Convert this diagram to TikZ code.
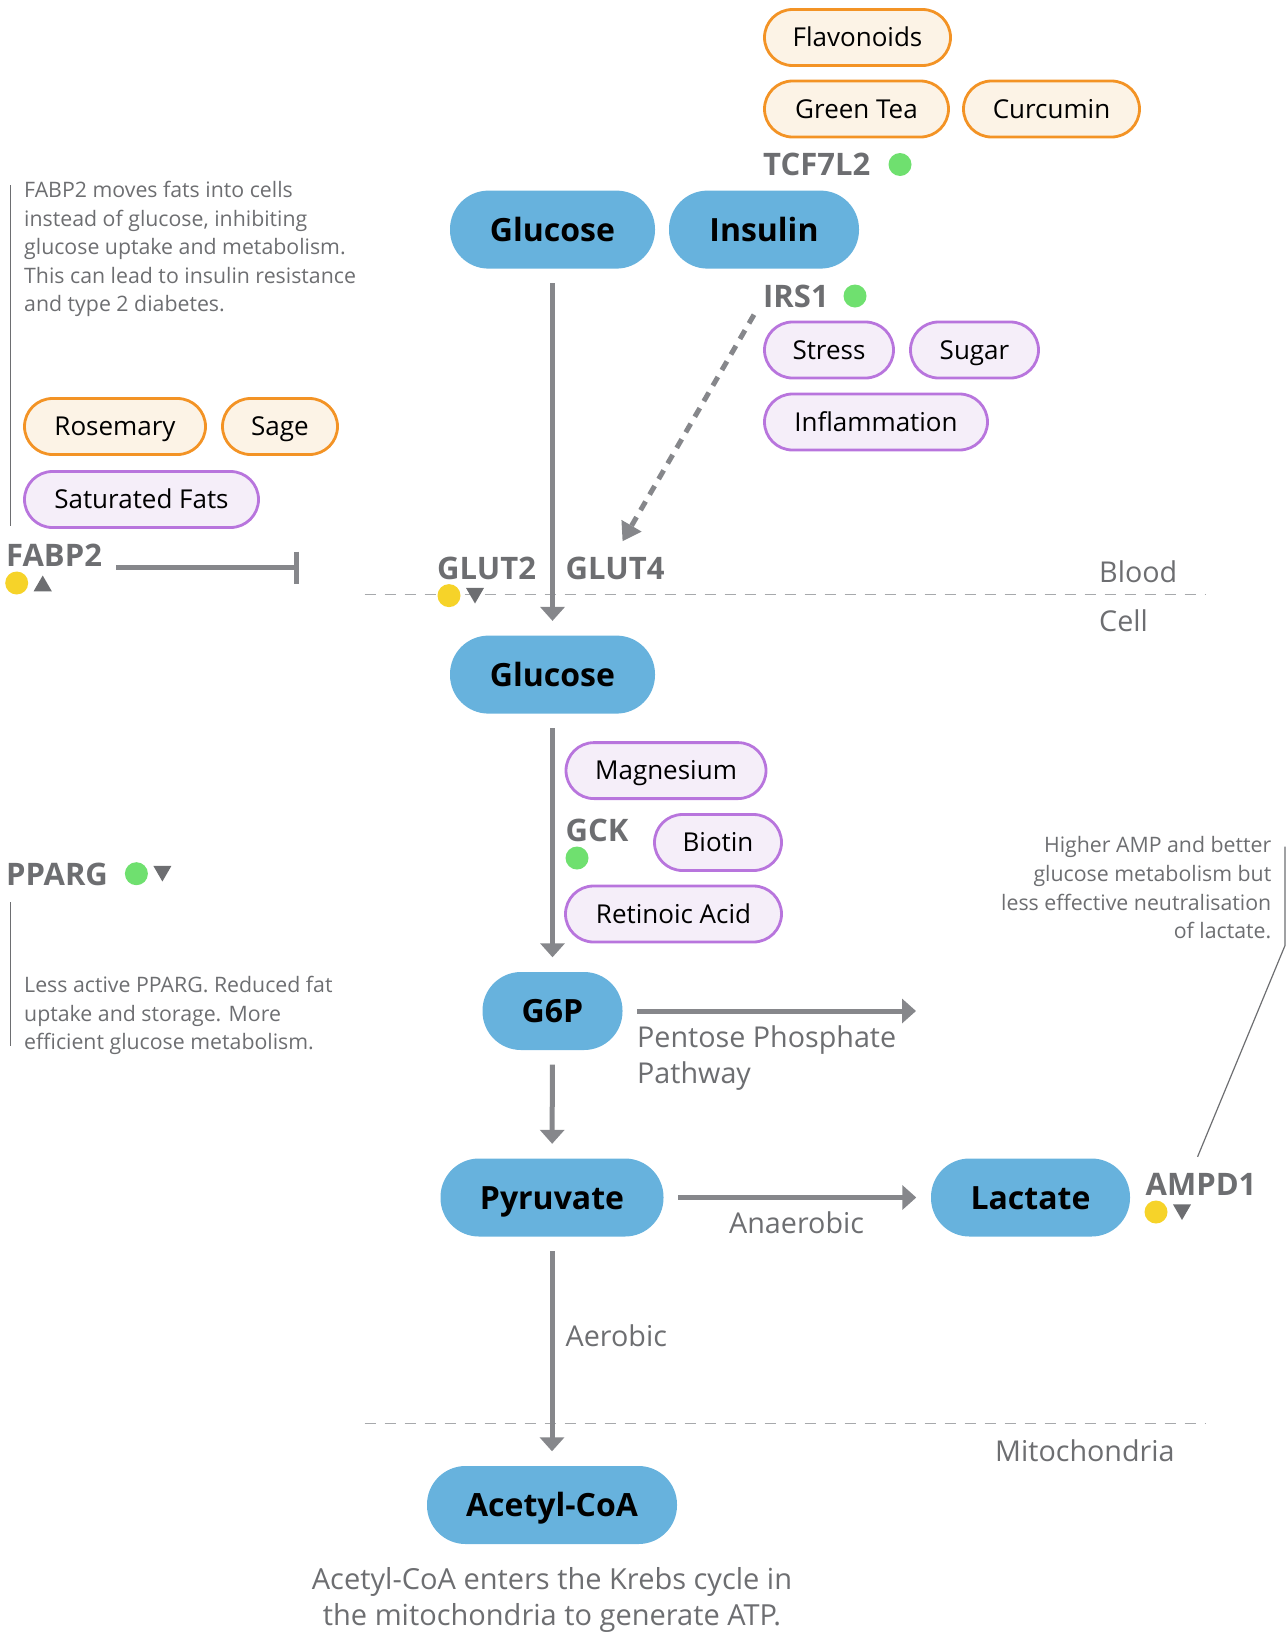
\documentclass[tikz,border=0pt]{standalone}
\usepackage{fontspec}
\setmainfont{Open Sans}
\usetikzlibrary{arrows.meta,shapes.geometric}
\definecolor{pillblue}{HTML}{67B2DD}
\definecolor{orangeline}{HTML}{F39325}
\definecolor{orangefill}{HTML}{FCF3E6}
\definecolor{purpleline}{HTML}{B875DD}
\definecolor{purplefill}{HTML}{F5EEF9}
\definecolor{txtgray}{HTML}{6D6E71}
\definecolor{arrowgray}{HTML}{86878B}
\definecolor{dashgray}{HTML}{A7A9AC}
\definecolor{dotgreen}{HTML}{6FE06F}
\definecolor{dotyellow}{HTML}{F6D329}
\begin{document}
\begin{tikzpicture}[x=1pt,y=-1pt,
  mainpill/.style={rounded corners=38.5pt, fill=pillblue, minimum height=78pt, inner sep=0pt,
    text height=23pt, text depth=0pt, font=\fontsize{32}{38}\selectfont\bfseries},
  orangepill/.style={rounded corners=28pt, draw=orangeline, fill=orangefill, line width=2.8pt,
    minimum height=56pt, inner sep=0pt, text height=18.5pt, text depth=0pt, font=\fontsize{26}{31}\selectfont},
  purplepill/.style={orangepill, draw=purpleline, fill=purplefill},
  genelabel/.style={anchor=west, inner sep=0pt, text=txtgray, text height=22pt, text depth=0pt,
    font=\fontsize{31}{36}\selectfont\bfseries},
  notetext/.style={inner sep=0pt, text=txtgray, font=\fontsize{21.3}{28.6}\selectfont},
  regiontext/.style={inner sep=0pt, text=txtgray, font=\fontsize{28.7}{35.6}\selectfont},
  gdot/.style={circle, fill=dotgreen, minimum size=23pt, inner sep=0pt},
  ydot/.style={circle, fill=dotyellow, minimum size=23pt, inner sep=0pt},
  tridown/.style={regular polygon, regular polygon sides=3, shape border rotate=180, fill=txtgray, minimum size=21pt, inner sep=0pt},
  triup/.style={regular polygon, regular polygon sides=3, fill=txtgray, minimum size=21pt, inner sep=0pt},
  flow/.style={draw=arrowgray, line width=5pt, -{Triangle[width=24pt,length=14pt]}, shorten <=14.5pt, shorten >=14.5pt},
  dashflow/.style={draw=arrowgray, line width=5pt, dash pattern=on 10pt off 8pt, -{Triangle[width=22pt,length=18pt]}},
  inhibit/.style={draw=arrowgray, line width=5pt, -{Bar[width=32pt]}},
  membrane/.style={draw=dashgray, line width=1.6pt, dash pattern=on 11pt off 9pt},
  noteline/.style={draw=txtgray, line width=1.2pt}
]
\useasboundingbox (0,0) rectangle (1287,1633);

% membranes
\draw[membrane] (364.5,594.6) -- (1206,594.6);
\draw[membrane] (364.5,1423.5) -- (1206,1423.5);
\node[regiontext, anchor=west] (blood) at (1099,571.7) {Blood};
\node[regiontext, anchor=west] (cell) at (1099,620.6) {Cell};
\node[regiontext, anchor=west] (mito) at (995,1450.5) {Mitochondria};

% main pills
\node[mainpill, minimum width=205pt] (glc1) at (552.5,229.6) {Glucose};
\node[mainpill, minimum width=190pt] (ins) at (764,229.6) {Insulin};
\node[mainpill, minimum width=205pt] (glc2) at (552.5,674.6) {Glucose};
\node[mainpill, minimum width=140pt] (g6p) at (552.5,1011) {G6P};
\node[mainpill, minimum width=223pt] (pyr) at (552,1197.5) {Pyruvate};
\node[mainpill, minimum width=199pt] (lac) at (1030.5,1197.5) {Lactate};
\node[mainpill, minimum width=250pt] (acoa) at (552,1505) {Acetyl-CoA};

% orange pills
\node[orangepill, minimum width=186pt] (flav) at (857.5,37.5) {Flavonoids};
\node[orangepill, minimum width=184pt] (gtea) at (856.5,109) {Green Tea};
\node[orangepill, minimum width=176pt] (curc) at (1051.5,109) {Curcumin};
\node[orangepill, minimum width=181pt] (rose) at (115,426.5) {Rosemary};
\node[orangepill, minimum width=115pt] (sage) at (280,426.5) {Sage};

% purple pills
\node[purplepill, minimum width=129pt] (stress) at (829,350) {Stress};
\node[purplepill, minimum width=128pt] (sugar) at (974.5,350) {Sugar};
\node[purplepill, minimum width=223pt] (infl) at (876,422) {Inflammation};
\node[purplepill, minimum width=234pt] (satf) at (141.5,499.5) {Saturated Fats};
\node[purplepill, minimum width=200pt] (magn) at (666,770.6) {Magnesium};
\node[purplepill, minimum width=127pt] (biot) at (718,842.5) {Biotin};
\node[purplepill, minimum width=216pt] (reta) at (673.5,914) {Retinoic Acid};

% gene labels
\node[genelabel] (tcf) at (763,164.5) {TCF7L2};
\node[gdot] (tcfdot) at (900,164.5) {};
\node[genelabel] (irs1) at (763,296) {IRS1};
\node[gdot] (irsdot) at (855,296) {};
\node[genelabel] (fabp2) at (6,555) {FABP2};
\node[ydot] (fabpdot) at (16.7,583) {};
\node[triup] (fabptri) at (42.7,586) {};
\node[genelabel] (glut2) at (437,568.5) {GLUT2};
\node[ydot] (glutdot) at (449,595.6) {};
\node[tridown] (guttri) at (475,593) {};
\node[genelabel] (glut4) at (565.5,568.5) {GLUT4};
\node[genelabel] (gck) at (565.5,830) {GCK};
\node[gdot] (gckdot) at (577,858) {};
\node[genelabel] (pparg) at (6,874.7) {PPARG};
\node[gdot] (ppargdot) at (136.4,873.7) {};
\node[tridown] (ppargtri) at (162.4,871) {};
\node[genelabel] (ampd1) at (1145.5,1184) {AMPD1};
\node[ydot] (ampddot) at (1156,1212) {};
\node[tridown] (ampdtri) at (1182,1209.5) {};

% notes
\node[notetext, anchor=north west, align=left] (fabpnote) at (24,181)
  {FABP2 moves fats into cells\\instead of glucose, inhibiting\\glucose uptake and metabolism.\\This can lead to insulin resistance\\and type 2 diabetes.};
\draw[noteline] (10.4,185) -- (10.4,526);
\node[notetext, anchor=north west, align=left] (ppargnote) at (24,976)
  {Less active PPARG. Reduced fat\\uptake and storage. More\\efficient glucose metabolism.};
\draw[noteline] (10.4,902) -- (10.4,1046);
\node[notetext, anchor=north east, align=right] (ampdnote) at (1271.5,836.5)
  {Higher AMP and better\\glucose metabolism but\\less effective neutralisation\\of lactate.};
\coordinate (ampdl1) at (1285,846.6);
\coordinate (ampdl2) at (1285,945.5);
\draw[noteline] (ampdl1) -- (ampdl2) -- ([xshift=-3.5pt,yshift=16pt]ampd1.north);

% flow labels
\node[regiontext, anchor=north west, align=left] (ppp) at (637,1025.5) {Pentose Phosphate\\Pathway};
\node[regiontext] (anaer) at (796.6,1222.5) {Anaerobic};
\node[regiontext, anchor=west] (aer) at (565.5,1336) {Aerobic};
\node[inner sep=0pt, text=txtgray, font=\fontsize{29}{36.4}\selectfont, align=center, anchor=north] (krebs) at (552,1567)
  {Acetyl-CoA enters the Krebs cycle in\\the mitochondria to generate ATP.};

% connectors
\draw[flow] (glc1) -- (glc2);
\draw[flow] (glc2) -- (g6p);
\draw[flow] (g6p) -- (pyr);
\draw[flow] (pyr) -- (acoa);
\draw[flow] (pyr) -- (lac);
\coordinate (pppend) at (930.5,1011);
\draw[flow] (g6p.east) -- (pppend);
\draw[dashflow] ([xshift=-9pt,yshift=-7.5pt]irs1.south west) -- ([xshift=57pt,yshift=16pt]glut4.north west);
\coordinate (fabpend) at (299,567.5);
\draw[inhibit] ([xshift=14pt,yshift=-12.5pt]fabp2.east) -- (fabpend);
\end{tikzpicture}
\end{document}
